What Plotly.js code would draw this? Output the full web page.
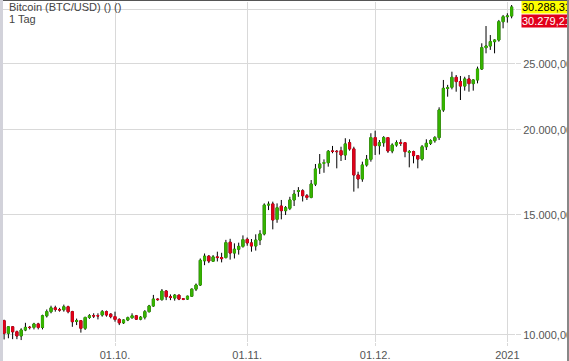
<!DOCTYPE html>
<html>
<head>
<meta charset="utf-8">
<script src="https://cdn.plot.ly/plotly-3.0.1.min.js"></script>
<style>
html,body{margin:0;padding:0;background:#fff;overflow:hidden}
#wrap{position:relative;width:569px;height:361px;overflow:hidden}
#chart{position:absolute;left:0;top:0;width:569px;height:361px}
#fTop{position:absolute;left:0;top:0;width:569px;height:1px;background:#555}
#fLeft{position:absolute;left:0;top:0;width:3px;height:361px;background:#d2d2da}
#fRight{position:absolute;left:567px;top:0;width:2px;height:361px;background:#888}
</style>
</head>
<body>
<div id="wrap">
<div id="chart"></div>
<div id="fTop"></div><div id="fLeft"></div><div id="fRight"></div>
</div>
<script>
const dates = [
"2020-09-05","2020-09-06","2020-09-07","2020-09-08","2020-09-09","2020-09-10","2020-09-11","2020-09-12","2020-09-13","2020-09-14",
"2020-09-15","2020-09-16","2020-09-17","2020-09-18","2020-09-19","2020-09-20","2020-09-21","2020-09-22","2020-09-23","2020-09-24",
"2020-09-25","2020-09-26","2020-09-27","2020-09-28","2020-09-29","2020-09-30",
"2020-10-01","2020-10-02","2020-10-03","2020-10-04","2020-10-05","2020-10-06","2020-10-07","2020-10-08","2020-10-09","2020-10-10",
"2020-10-11","2020-10-12","2020-10-13","2020-10-14","2020-10-15","2020-10-16","2020-10-17","2020-10-18","2020-10-19","2020-10-20",
"2020-10-21","2020-10-22","2020-10-23","2020-10-24","2020-10-25","2020-10-26","2020-10-27","2020-10-28","2020-10-29","2020-10-30","2020-10-31",
"2020-11-01","2020-11-02","2020-11-03","2020-11-04","2020-11-05","2020-11-06","2020-11-07","2020-11-08","2020-11-09","2020-11-10",
"2020-11-11","2020-11-12","2020-11-13","2020-11-14","2020-11-15","2020-11-16","2020-11-17","2020-11-18","2020-11-19","2020-11-20",
"2020-11-21","2020-11-22","2020-11-23","2020-11-24","2020-11-25","2020-11-26","2020-11-27","2020-11-28","2020-11-29","2020-11-30",
"2020-12-01","2020-12-02","2020-12-03","2020-12-04","2020-12-05","2020-12-06","2020-12-07","2020-12-08","2020-12-09","2020-12-10",
"2020-12-11","2020-12-12","2020-12-13","2020-12-14","2020-12-15","2020-12-16","2020-12-17","2020-12-18","2020-12-19","2020-12-20",
"2020-12-21","2020-12-22","2020-12-23","2020-12-24","2020-12-25","2020-12-26","2020-12-27","2020-12-28","2020-12-29","2020-12-30","2020-12-31",
"2021-01-01","2021-01-02"
];
const openP = [
10495,10060,10280,10110,9970,10170,10265,10260,10380,10260,
10670,10820,10960,10900,10890,11000,10820,10470,10495,10230,
10610,10675,10675,10700,10820,10730,
10640,10540,10420,10520,10600,10670,10550,10620,10820,11030,
11290,11270,11600,11380,11330,11440,11300,11290,11400,11675,
11840,12850,13050,12830,13020,12990,12990,13680,13190,13360,13490,
13815,13650,13510,13780,14070,15510,15570,14780,15460,15220,
15340,15780,16250,16280,16010,15920,16650,17580,17860,17900,
18620,18600,18640,18370,19150,18750,17170,16940,17760,18100,
19480,18960,19150,19480,18620,19000,19150,19150,18540,18580,
18330,18120,18890,19110,19280,19480,21390,23010,23090,23880,
23540,23190,23750,23380,23670,24560,26400,26550,26940,27090,28820,
29310,29380
];
const highP = [
10530,10290,10300,10150,10230,10420,10310,10420,10420,10710,
10900,11040,11040,10960,11080,11040,10850,10570,10520,10640,
10730,10760,10760,10880,10860,10760,
10820,10580,10540,10640,10760,10700,10660,10880,11070,11450,
11320,11680,11640,11470,11480,11460,11330,11420,11700,11900,
12950,13170,13100,13100,13250,13200,13790,13840,13630,13660,14000,
13900,13830,14050,14250,15600,15700,15690,15600,15780,15460,
15950,16320,16480,16360,16100,16880,17820,18430,18100,18680,
18940,18680,18890,19440,19370,18890,17360,17960,18370,19770,
19940,19320,19580,19500,19110,19300,19370,19150,18680,18640,
18370,19000,19370,19370,19580,21580,23670,23280,24340,24070,
23990,23930,24070,23720,24760,26790,28400,27550,27150,28990,29480,
29650,30490
];
const lowP = [
9850,9890,9860,9860,9830,10130,10190,10190,10190,10190,
10610,10760,10820,10820,10820,10760,10280,10340,10080,10170,
10560,10590,10540,10640,10640,10580,
10460,10340,10380,10480,10570,10520,10510,10540,10790,11000,
11230,11230,11250,11250,11230,11250,11250,11260,11370,11600,
11800,12660,12750,12800,12820,12780,12950,12900,12950,13120,13430,
13520,13250,13300,13550,14000,15250,14290,14610,14780,15000,
15250,15460,15950,15700,15780,15870,16540,17230,17300,17660,
18480,17560,18000,18060,18640,16230,16410,16780,17660,17960,
18370,18400,18890,18500,18480,18890,18940,18230,17620,17860,
17560,18020,18680,19000,19150,19320,21250,22370,22930,22750,
22120,22830,22750,22830,23400,24480,25900,26200,25900,26940,28180,
28730,29150
];
const closeP = [
10060,10280,10110,9970,10170,10260,10255,10380,10260,10670,
10820,10960,10900,10880,11000,10820,10460,10495,10230,10610,
10670,10665,10665,10820,10700,10640,
10540,10420,10520,10600,10670,10550,10620,10820,11030,11290,
11270,11600,11380,11350,11440,11290,11285,11400,11675,11840,
12870,13050,12840,13020,12990,12945,13660,13190,13360,13490,13800,
13650,13510,13780,14070,15510,15550,14750,15370,15220,15370,
15780,16100,16280,16010,15920,16650,17520,17820,17900,18600,
18600,18580,18370,19070,18750,17170,16940,17760,18100,19480,
18960,19150,19480,18620,19000,19150,19110,18580,18580,18330,
18120,18890,19110,19280,19480,21390,23010,23050,23880,23540,
23190,23750,23380,23670,24560,26400,26550,26940,27090,28820,29310,
29380,30288.31
];
const xTickVals = ["2020-10-01","2020-11-01","2020-12-01","2021-01-01"];
const xTickText = ["01.10.","01.11.","01.12.","2021"];
const yTickVals = [10000,15000,20000,25000,30000];
// the 30.000 label is hidden behind the price boxes in the reference
const yTickText = ["10.000,00","15.000,00","20.000,00","25.000,00",""];
const lastPrice = 30288.31;
const lastPriceText = "30.288,31";
const bidPrice = 30279.21;
const bidPriceText = "30.279,21";
const titleLine1 = "Bitcoin (BTC/USD) () ()";
const titleLine2 = "1 Tag";

const GREEN = "#36b400";
const RED = "#e2001a";
const FONT = "Liberation Sans, Arial, sans-serif";

const bodyHigh = openP.map((o,i)=>Math.max(o, closeP[i]));
const bodyLow = openP.map((o,i)=>Math.min(o, closeP[i]));

const wicks = {
  type: "candlestick", x: dates, open: openP, high: highP, low: lowP, close: closeP,
  increasing: {line: {color: "#000", width: 1}, fillcolor: "#000"},
  decreasing: {line: {color: "#000", width: 1}, fillcolor: "#000"},
  whiskerwidth: 0, hoverinfo: "skip", showlegend: false
};
const bodies = {
  type: "candlestick", x: dates, open: openP, high: bodyHigh, low: bodyLow, close: closeP,
  increasing: {line: {color: GREEN, width: 1}, fillcolor: GREEN},
  decreasing: {line: {color: RED, width: 1}, fillcolor: RED},
  whiskerwidth: 0, hoverinfo: "skip", showlegend: false
};

const layout = {
  width: 569, height: 361,
  margin: {l: 3, r: 54, t: 2, b: 19, pad: 0},
  paper_bgcolor: "#fff", plot_bgcolor: "#fff",
  showlegend: false, hovermode: false,
  font: {family: FONT, size: 11, color: "#555"},
  xaxis: {
    type: "date",
    range: ["2020-09-04 17:45", "2021-01-02 19:00"],
    tickmode: "array", tickvals: xTickVals, ticktext: xTickText,
    showgrid: true, gridcolor: "#d9d9d9", gridwidth: 1,
    ticks: "outside", ticklen: 3, tickcolor: "#d9d9d9",
    tickfont: {family: FONT, size: 11, color: "#555"},
    zeroline: false, showline: false,
    rangeslider: {visible: false}, fixedrange: true
  },
  yaxis: {
    type: "log", side: "right",
    range: [Math.log10(9766), Math.log10(30802)],
    tickmode: "array", tickvals: yTickVals, ticktext: yTickText,
    showgrid: true, gridcolor: "#d9d9d9", gridwidth: 1,
    ticks: "outside", ticklen: 5, tickcolor: "#d9d9d9",
    tickfont: {family: FONT, size: 11, color: "#555"},
    zeroline: false, showline: false, fixedrange: true
  },
  annotations: [
    {text: titleLine1, xref: "paper", yref: "paper", x: 0, y: 1, xanchor: "left", yanchor: "top",
     xshift: 4, yshift: 3, showarrow: false, font: {family: FONT, size: 11, color: "#444"}},
    {text: titleLine2, xref: "paper", yref: "paper", x: 0, y: 1, xanchor: "left", yanchor: "top",
     xshift: 4, yshift: -9, showarrow: false, font: {family: FONT, size: 11, color: "#444"}},
    {text: lastPriceText, xref: "paper", yref: "y", x: 1, y: Math.log10(lastPrice), xanchor: "left", yanchor: "middle",
     xshift: 6, yshift: 0, showarrow: false, bgcolor: "#ffff00", borderpad: 0,
     font: {family: FONT, size: 11, color: "#000"}},
    {text: bidPriceText, xref: "paper", yref: "y", x: 1, y: Math.log10(bidPrice), xanchor: "left", yanchor: "middle",
     xshift: 6, yshift: -14, showarrow: false, bgcolor: RED, borderpad: 0,
     font: {family: FONT, size: 11, color: "#fff"}}
  ]
};

Plotly.newPlot("chart", [wicks, bodies], layout, {staticPlot: true, displayModeBar: false});
</script>
</body>
</html>
